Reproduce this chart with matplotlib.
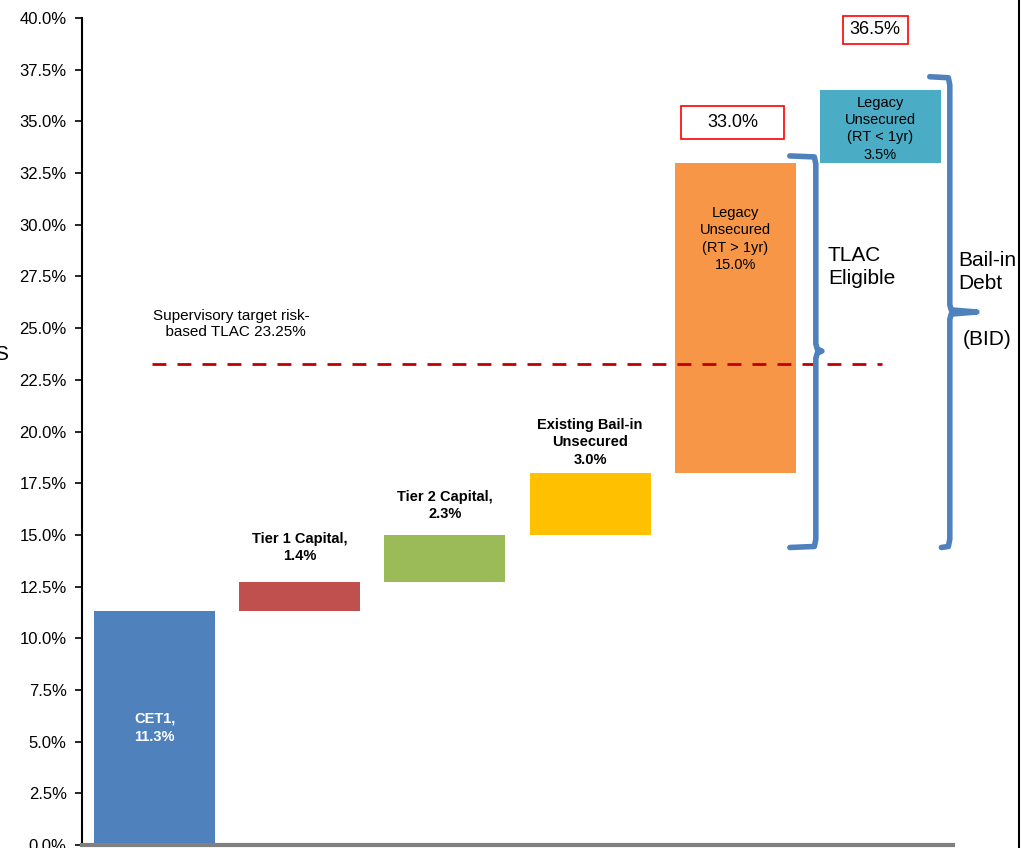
import matplotlib.pyplot as plt
from matplotlib.patches import Rectangle
from matplotlib.lines import Line2D
from matplotlib.ticker import FuncFormatter

plt.rcParams['font.family'] = ['Liberation Sans', 'DejaVu Sans']

# data
labels = ["CET1,\n11.3%", "Tier 1 Capital,\n1.4%", "Tier 2 Capital,\n2.3%",
          "Existing Bail-in\nUnsecured\n3.0%", "Legacy\nUnsecured\n(RT > 1yr)\n15.0%",
          "Legacy\nUnsecured\n(RT < 1yr)\n3.5%"]
values = [11.3, 1.4, 2.3, 3.0, 15.0, 3.5]
bottoms = [0, 11.3, 12.7, 15.0, 18.0, 33.0]  # cumulative steps as drawn in the chart
colors = ["#4F81BD", "#C0504D", "#9BBB59", "#FFC000", "#F79646", "#4BACC6"]
target = 23.25
totals = ["33.0%", "36.5%"]

fig = plt.figure(figsize=(10.21, 8.48), dpi=100)
ax = fig.add_axes([82 / 1021, 3 / 848, (953 - 82) / 1021, (845 - 18) / 848])

x = list(range(len(values)))
ax.bar(x, values, bottom=bottoms, width=0.833, color=colors, zorder=2)

ax.set_xlim(-0.5, 5.5)
ax.set_ylim(0, 40)
ax.set_yticks([i * 2.5 for i in range(17)])
ax.yaxis.set_major_formatter(FuncFormatter(lambda v, p: "%.1f%%" % v))
ax.tick_params(axis='y', labelsize=12, length=5, width=1.2, direction='out', pad=6)
ax.set_xticks([])
for s in ['top', 'right']:
    ax.spines[s].set_visible(False)
ax.spines['left'].set_linewidth(1.5)
ax.spines['bottom'].set_color('#808080')
ax.spines['bottom'].set_linewidth(3)

# bar labels
ax.text(0, 5.67, labels[0], ha='center', va='center', color='white',
        fontsize=10.5, fontweight='bold', linespacing=1.35)
ax.text(1, 14.39, labels[1], ha='center', va='center', fontsize=10.5,
        fontweight='bold', linespacing=1.3)
ax.text(2, 16.42, labels[2], ha='center', va='center', fontsize=10.5,
        fontweight='bold', linespacing=1.3)
ax.text(3, 19.48, labels[3], ha='center', va='center', fontsize=10.5,
        fontweight='bold', linespacing=1.3)
ax.text(4, 29.31, labels[4], ha='center', va='center', fontsize=10.5,
        linespacing=1.3)
ax.text(5, 34.64, labels[5], ha='center', va='center', fontsize=10.5,
        linespacing=1.3)

# supervisory target
ax.plot([-0.02, 5.01], [target, target], color='#C00000', lw=2,
        dashes=(5, 4), zorder=3)
ax.text(0.53, 25.2, "Supervisory target risk-\n  based TLAC %.2f%%" % target,
        ha='center', va='center', fontsize=11, linespacing=1.15)

# red boxed totals
ax.add_patch(Rectangle((3.625, 34.16), 0.71, 1.6, fill=False, ec='red', lw=1.2, clip_on=False))
ax.text(3.98, 34.93, totals[0], ha='center', va='center', fontsize=13)
ax.add_patch(Rectangle((4.741, 38.76), 0.448, 1.36, fill=False, ec='red', lw=1.2, clip_on=False))
ax.text(4.965, 39.42, totals[1], ha='center', va='center', fontsize=13, clip_on=False)


def brace(xv, ytop, ybot, ymid, xtop, xbot, xtip):
    xs = [xtop, xv - 0.01, xv, xv, xv + 0.01, xtip, xv + 0.01, xv, xv, xv - 0.01, xbot]
    ys = [ytop, ytop - 0.05, ytop - 0.4, ymid + 0.35, ymid + 0.1, ymid,
          ymid - 0.1, ymid - 0.35, ybot + 0.4, ybot + 0.05, ybot]
    ax.plot(xs, ys, color='#4F81BD', lw=4, solid_joinstyle='round',
            solid_capstyle='round', clip_on=False, zorder=4)


brace(4.555, 33.33, 14.39, 23.89, 4.376, 4.376, 4.597)
brace(5.478, 37.16, 14.39, 25.78, 5.34, 5.42, 5.664)

ax.text(4.638, 27.96, "TLAC\nEligible", ha='left', va='center', fontsize=15,
        linespacing=1.3, clip_on=False)
ax.text(5.535, 27.71, "Bail-in\nDebt", ha='left', va='center', fontsize=15,
        linespacing=1.3, clip_on=False)
ax.text(5.567, 24.47, "(BID)", ha='left', va='center', fontsize=15, clip_on=False)

# cut-off axis title and right border
fig.text(-0.006, (848 - 355) / 848, "S", fontsize=15, va='center')
fig.add_artist(Line2D([1019 / 1021, 1019 / 1021], [0, 1], color='black', lw=1.5))

fig.savefig("out.png", dpi=100)
